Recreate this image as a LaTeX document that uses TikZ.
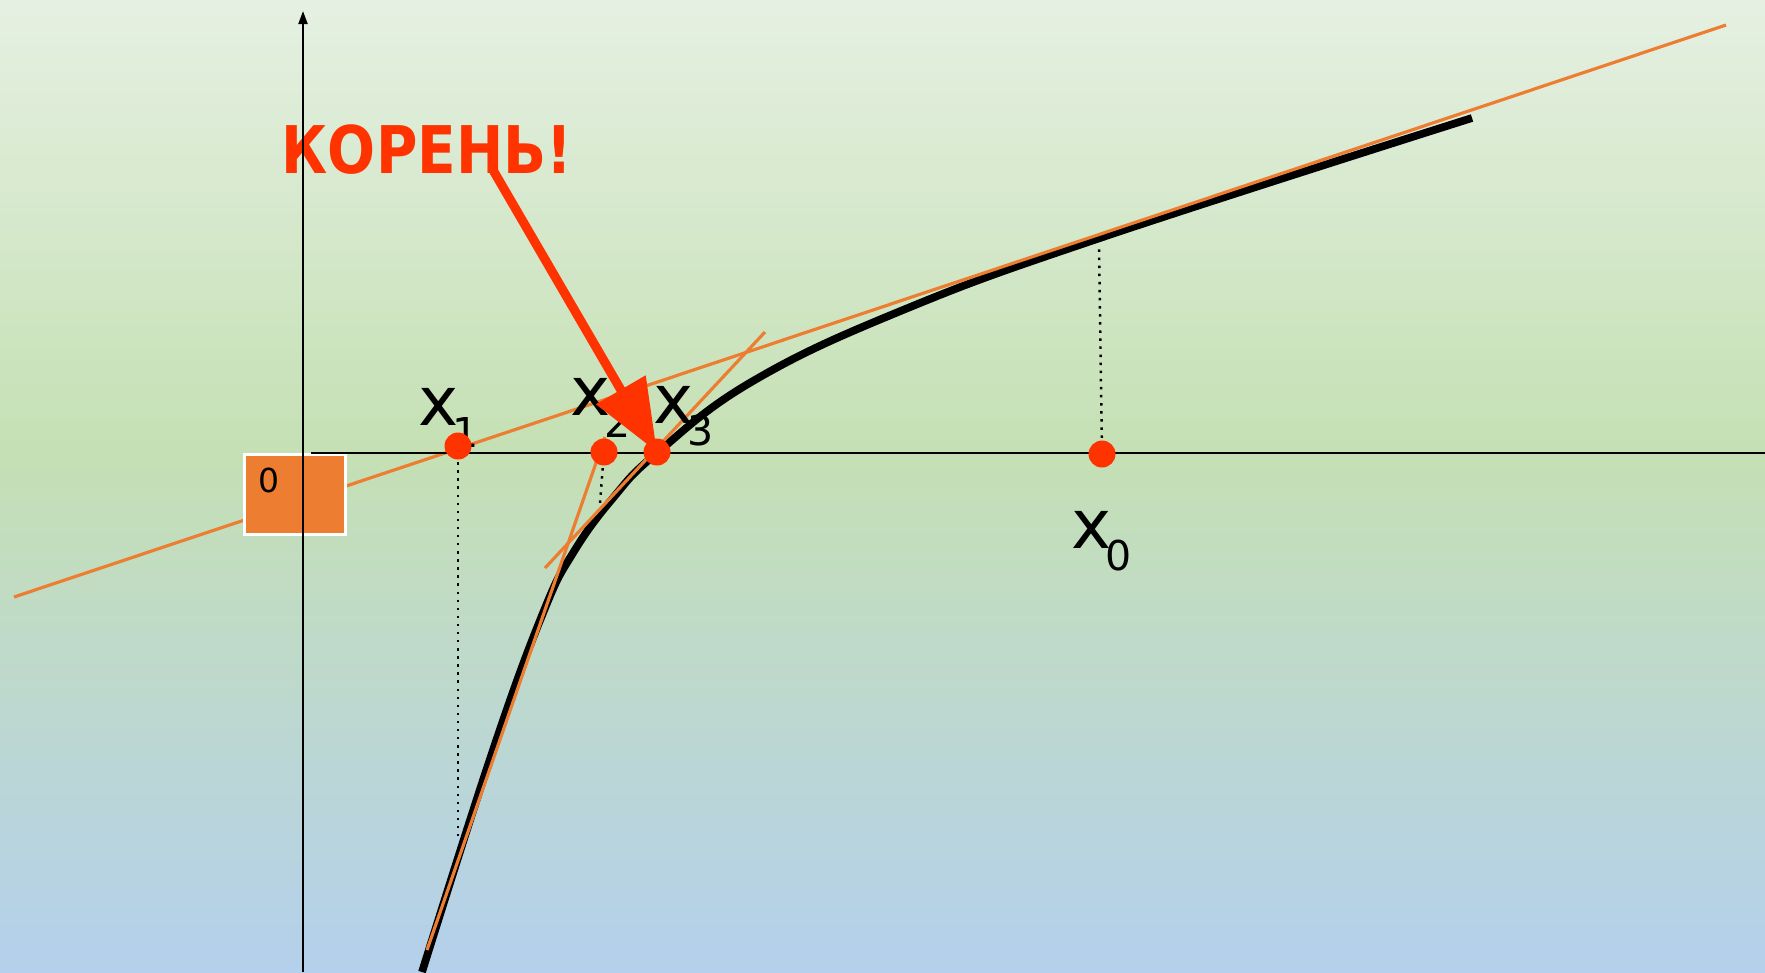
\documentclass[tikz,border=0pt]{standalone}
\usepackage{fontspec}
\setmainfont{DejaVu Sans}
\usetikzlibrary{arrows.meta}

\begin{document}
\begin{tikzpicture}[
    tangent/.style={draw=tangentorange, line width=0.9pt},
    guide/.style={line width=0.7pt, dash pattern=on 0.7pt off 1.6pt},
    rootdot/.style={circle, fill=rootred, inner sep=0pt, minimum size=0.27cm},
    xlab/.style={font=\fontsize{19.3}{20}\selectfont, inner sep=0pt, anchor=base west}
]
    % Define colors
    \definecolor{bgtop}{RGB}{229,240,226}     % pale green at the top
    \definecolor{bgmid}{RGB}{197,224,180}     % green near the axis
    \definecolor{bgbot}{RGB}{180,208,236}     % light blue at the bottom
    \definecolor{rootred}{RGB}{255,51,0}
    \definecolor{tangentorange}{RGB}{237,125,49}

    % Subscripted label x_n
    \newcommand{\xsub}[1]{x\kern-0.06cm\raisebox{-0.22cm}{\fontsize{11.7}{12}\selectfont #1}}

    % Background
    \useasboundingbox (-3.03,-5.19) rectangle (14.62,4.53);
    \shade[top color=bgtop, bottom color=bgmid] (-3.03,0) rectangle (14.62,4.53);
    \shade[top color=bgmid, bottom color=bgbot] (-3.03,-5.19) rectangle (14.62,0);

    % Title
    \node[text=rootred, font=\fontsize{18.7}{19}\selectfont\bfseries] (koren) at (1.24,3.03)
        {\scalebox{0.86}[1]{КОРЕНЬ!}};

    % Points on the axis and where the tangents touch the curve
    \coordinate (p0) at (7.99,-0.01);   % x_0
    \coordinate (p1) at (1.55,0.07);    % x_1
    \coordinate (p2) at (3.01,0.01);    % x_2
    \coordinate (p3) at (3.54,0.01);    % x_3
    \coordinate (t0) at (7.96,2.08);    % touch point above x_0
    \coordinate (t1) at (1.55,-3.87);   % touch point below x_1
    \coordinate (t2) at (2.97,-0.50);   % touch point below x_2

    % The function
    \draw[line width=2.2pt] plot[smooth, tension=0.7] coordinates {
        (1.19,-5.19) (1.90,-2.97) (2.40,-1.60) (2.70,-1.00) (3.10,-0.45)
        (3.54,0.0) (4.50,0.72) (6.00,1.43) (8.00,2.16) (11.69,3.35)};

    % Tangent lines
    \draw[tangent] (-2.89,-1.44) -- (14.23,4.28);
    \draw[tangent] (1.24,-4.97) -- (3.02,0.16);
    \draw[tangent] (2.42,-1.15) -- (4.62,1.21);

    % Box with the origin label
    \node[fill=tangentorange, draw=white, line width=0.8pt, inner sep=0pt,
          minimum width=1.01cm, minimum height=0.80cm, anchor=north west] (zerobox) at (-0.60,0) {};
    \node[font=\fontsize{9.4}{10}\selectfont, inner sep=0pt] (zero) at (-0.34,-0.27) {0};

    % Axes
    \draw[line width=0.6pt, -{Triangle[length=1.3mm,width=0.9mm]}] (0,-5.19) -- (0,4.42);
    \draw[line width=0.8pt] (0.08,0) -- (14.62,0);

    % Dotted guides
    \draw[guide] (p0) -- (t0);
    \draw[guide] (p1) -- (t1);
    \draw[guide] (p2) -- (t2);

    % Labels
    \node[xlab] (lx0) at (7.68,-0.95) {\xsub{0}};
    \node[xlab] (lx1) at (1.15,0.28) {\xsub{1}};
    \node[xlab] (lx2) at (2.67,0.38) {\xsub{2}};
    \node[xlab] (lx3) at (3.50,0.30) {\xsub{3}};

    % Iterates
    \node[rootdot] (x0) at (p0) {};
    \node[rootdot] (x1) at (p1) {};
    \node[rootdot] (x2) at (p2) {};
    \node[rootdot] (x3) at (p3) {};

    % Arrow to the root
    \coordinate (arrstart) at (1.90,2.83);
    \draw[rootred, line width=2.6pt, -{Triangle[length=0.72cm,width=0.55cm]}] (arrstart) -- (x3.center);

\end{tikzpicture}
\end{document}
